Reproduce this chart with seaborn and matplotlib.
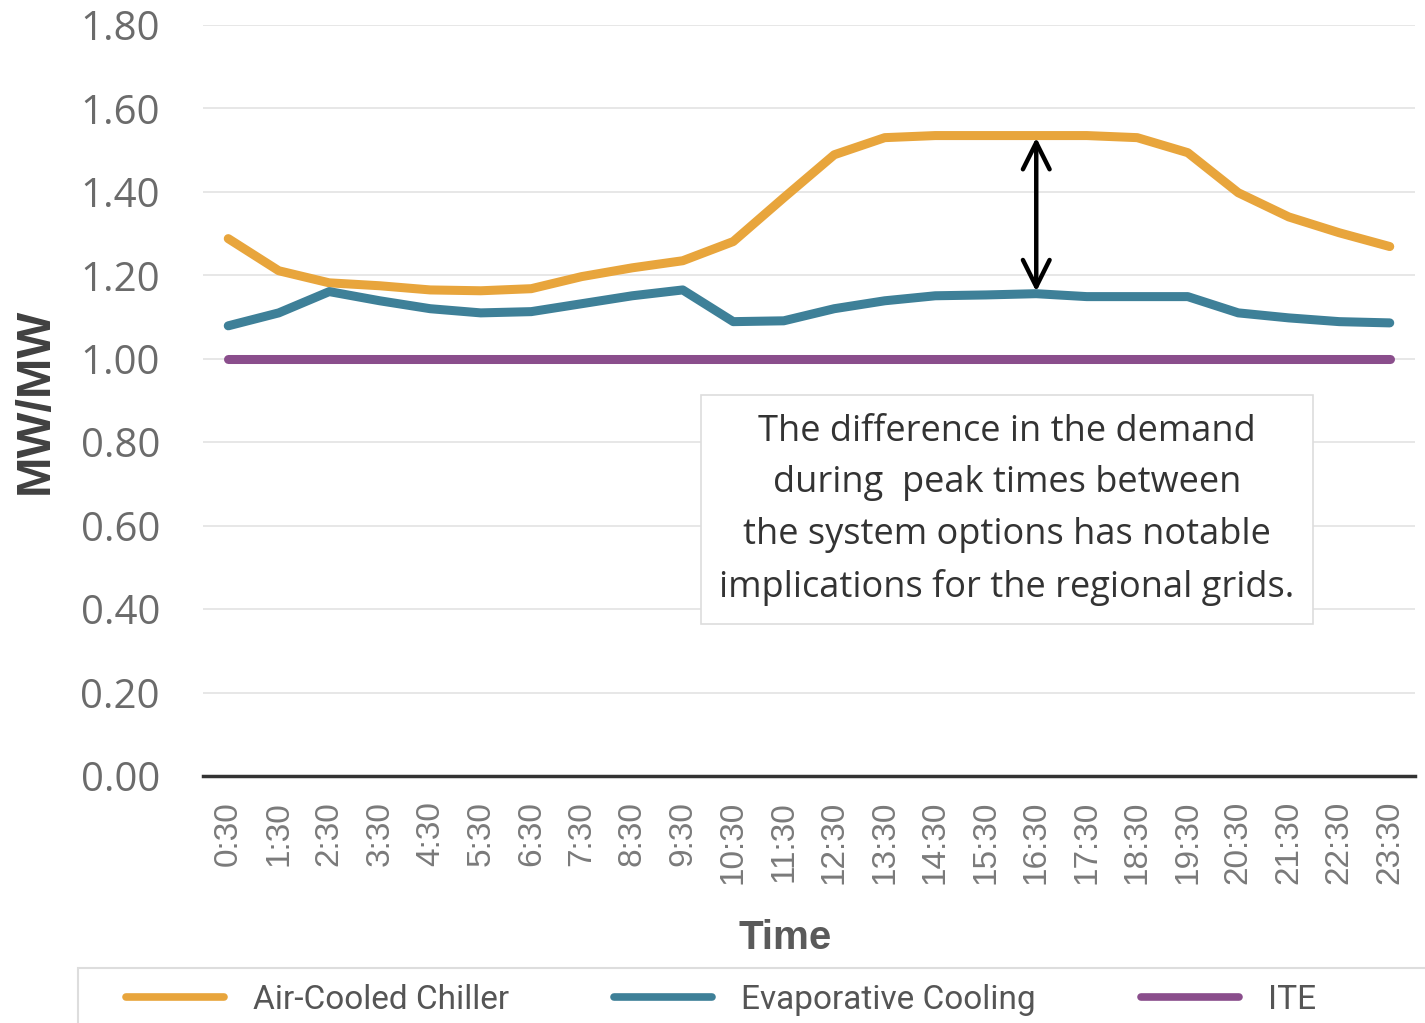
import matplotlib
matplotlib.use("Agg")
import matplotlib.pyplot as plt
from matplotlib.patches import Rectangle
import seaborn as sns
import pandas as pd

times = [f"{h}:30" for h in range(24)]
air_cooled = [1.288, 1.211, 1.182, 1.175, 1.165, 1.163, 1.168, 1.197, 1.218, 1.235,
              1.281, 1.386, 1.489, 1.530, 1.535, 1.535, 1.535, 1.535, 1.530, 1.494,
              1.398, 1.340, 1.302, 1.269]
evaporative = [1.079, 1.110, 1.161, 1.139, 1.120, 1.110, 1.113, 1.132, 1.151, 1.165,
               1.089, 1.091, 1.120, 1.139, 1.151, 1.153, 1.156, 1.149, 1.149, 1.149,
               1.110, 1.098, 1.089, 1.086]
ite = [1.00] * 24
series_names = ["Air-Cooled Chiller", "Evaporative Cooling", "ITE"]
colors = ["#E8A53C", "#3E8098", "#8A4E8C"]
y_ticks = [0.0, 0.2, 0.4, 0.6, 0.8, 1.0, 1.2, 1.4, 1.6, 1.8]

df = pd.DataFrame({
    "Value": air_cooled + evaporative + ite,
    "Series": [series_names[0]] * 24 + [series_names[1]] * 24 + [series_names[2]] * 24,
})
df["x"] = list(range(24)) * 3

sns.set_theme(style="white")
plt.rcParams["font.family"] = ["Open Sans", "DejaVu Sans"]

W, H = 1425, 1023
fig = plt.figure(figsize=(W / 100, H / 100), dpi=100)
ax = fig.add_axes([203 / W, 1 - 776 / H, (1415 - 203) / W, (776 - 25) / H])

sns.lineplot(data=df, x="x", y="Value", hue="Series", palette=colors,
             hue_order=series_names, linewidth=6.5, ax=ax, legend=False,
             solid_capstyle="round")

ax.set_xlim(-0.5, 23.5)
ax.set_ylim(0, 1.8)
ax.set_yticks(y_ticks)
ax.set_yticklabels([f"{v:.2f}" for v in y_ticks], fontsize=29, color="#6b6b6b")
ax.set_xticks(range(24))
ax.set_xticklabels(times, rotation=90, fontsize=24, color="#7a7a7a",
                   family=["Liberation Sans", "DejaVu Sans"])
ax.tick_params(axis="y", length=0, pad=31)
ax.tick_params(axis="x", length=0, pad=18)
ax.yaxis.grid(True, color="#e3e3e3", linewidth=1.2)
ax.set_axisbelow(True)
for s in ["top", "right", "left"]:
    ax.spines[s].set_visible(False)
ax.spines["bottom"].set_color("#333333")
ax.spines["bottom"].set_linewidth(2.5)

ax.set_xlabel("Time", fontsize=29, fontweight="bold", color="#5a5a5a",
              family=["Liberation Sans", "DejaVu Sans"])
ax.xaxis.set_label_coords((785 - 203) / 1212, -(938 - 776) / 751)
ax.xaxis.label.set_va("center")
ax.set_ylabel("MW/MW", fontsize=35, fontweight="bold", color="#404040",
              family=["Liberation Sans", "DejaVu Sans"])
ax.yaxis.set_label_coords(-(203 - 58) / 1212, 0.5)

# peak-gap arrow between the two cooling options at 16:30
peak_idx = 16
ax.annotate("", xy=(peak_idx, air_cooled[peak_idx] - 0.005),
            xytext=(peak_idx, evaporative[peak_idx] + 0.005),
            arrowprops=dict(arrowstyle="<->", color="black", lw=3.2,
                            mutation_scale=48, shrinkA=0, shrinkB=0))

ax.text(15.42, 0.638,
        "The difference in the demand\nduring  peak times between\nthe system options has notable\nimplications for the regional grids.",
        ha="center", va="center", fontsize=26, color="#333333", linespacing=1.58,
        bbox=dict(boxstyle="square,pad=0.5", facecolor="white", edgecolor="#dddddd", linewidth=1.2))

# legend strip along the bottom edge
fig.patches.append(Rectangle((78 / W, -0.05), 1.0, 0.05 + (1023 - 968) / H,
                             transform=fig.transFigure, facecolor="white",
                             edgecolor="#dddddd", linewidth=1.5))
handles = [plt.Line2D([], [], color=c, linewidth=5.5) for c in colors]
leg = fig.legend(handles, series_names, loc="center left", ncol=3,
                 bbox_to_anchor=(126 / W, 1 - 1000 / H),
                 prop={"family": ["Roboto", "DejaVu Sans"], "size": 24},
                 frameon=False, borderpad=0, borderaxespad=0,
                 handlelength=2.94, handletextpad=0.87, columnspacing=3.15)
for t in leg.get_texts():
    t.set_color("#555555")

fig.savefig("out.png", dpi=100, facecolor="white")
